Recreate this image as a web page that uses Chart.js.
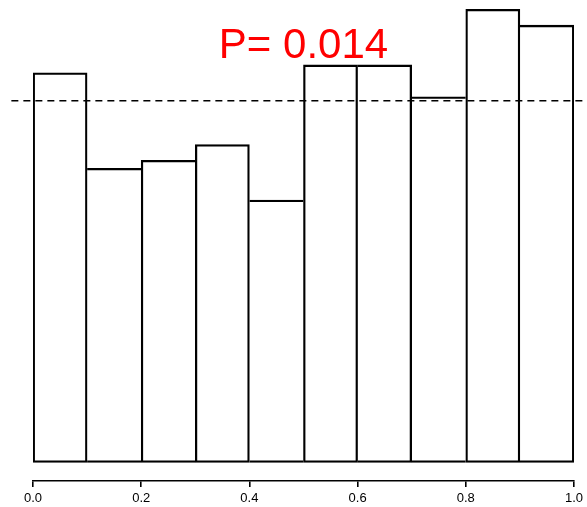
<!DOCTYPE html>
<html>
<head>
<meta charset="utf-8">
<script src="https://cdn.jsdelivr.net/npm/chart.js@4/dist/chart.umd.min.js"></script>
<style>
  html, body { margin: 0; padding: 0; background: #ffffff; overflow: hidden; }
  canvas { display: block; }
</style>
</head>
<body>
<canvas id="hist" width="587" height="507"></canvas>
<script>
// Histogram of p-values: bin edges and counts per bin
const binEdges = [0.0, 0.1, 0.2, 0.3, 0.4, 0.5, 0.6, 0.7, 0.8, 0.9, 1.0];
const counts   = [49, 37, 38, 40, 33, 50, 50, 46, 57, 55];
const tickValues = [0.0, 0.2, 0.4, 0.6, 0.8, 1.0];
const pLabel = 'P= 0.014';

// expected count per bin under a uniform distribution
const expected = counts.reduce((a, b) => a + b, 0) / counts.length;

const barData = counts.map((c, i) => ({ x: (binEdges[i] + binEdges[i + 1]) / 2, y: c }));
const first = binEdges[0], last = binEdges[binEdges.length - 1];
const pad = (last - first) * 0.04;
const refLine = [{ x: first - pad, y: expected }, { x: last + pad, y: expected }];

const W = 1.6;
// shared edges between neighbouring bins are drawn once, by the taller bin
function edgeWidths(ctx) {
  const i = ctx.dataIndex;
  const n = counts.length;
  return {
    top: W,
    bottom: W,
    left: (i === 0 || counts[i] > counts[i - 1]) ? W : 0,
    right: (i === n - 1 || counts[i] >= counts[i + 1]) ? W : 0
  };
}

const labelPlugin = {
  id: 'pLabel',
  afterDatasetsDraw(chart) {
    const { ctx, scales: { x, y } } = chart;
    ctx.save();
    ctx.font = '42px "Liberation Sans", Arial, sans-serif';
    ctx.fillStyle = '#ff0000';
    ctx.textAlign = 'center';
    ctx.textBaseline = 'alphabetic';
    ctx.fillText(pLabel, x.getPixelForValue(0.5), y.getPixelForValue(50.9));
    ctx.restore();
  }
};

new Chart(document.getElementById('hist'), {
  type: 'bar',
  data: {
    datasets: [
      {
        type: 'line',
        data: refLine,
        borderColor: '#000000',
        borderWidth: 1.7,
        borderDash: [7, 5],
        pointRadius: 0,
        fill: false,
        clip: false
      },
      {
        type: 'bar',
        data: barData,
        backgroundColor: 'rgba(255,255,255,0)',
        borderColor: '#000000',
        borderWidth: edgeWidths,
        borderSkipped: false,
        barPercentage: 1.0,
        categoryPercentage: 1.0
      }
    ]
  },
  options: {
    responsive: false,
    animation: false,
    devicePixelRatio: 1,
    layout: { padding: { left: 33, right: 10.5, top: 0, bottom: -3.6 } },
    plugins: { legend: { display: false }, tooltip: { enabled: false } },
    scales: {
      x: {
        type: 'linear',
        min: 0,
        max: 1,
        offset: false,
        afterBuildTicks(scale) { scale.ticks = tickValues.map(v => ({ value: v })); },
        ticks: {
          color: '#000000',
          font: { family: '"Liberation Sans", Arial, sans-serif', size: 13 },
          padding: 4,
          maxRotation: 0,
          autoSkip: false,
          callback: v => Number(v).toFixed(1)
        },
        grid: {
          offset: false,
          drawOnChartArea: false,
          drawTicks: true,
          tickLength: 6,
          color: '#000000',
          lineWidth: 1.6
        },
        border: { display: true, color: '#000000', width: 1.6 }
      },
      y: {
        display: false,
        min: -2.33,
        max: 58.17
      }
    }
  },
  plugins: [labelPlugin]
});
</script>
</body>
</html>
